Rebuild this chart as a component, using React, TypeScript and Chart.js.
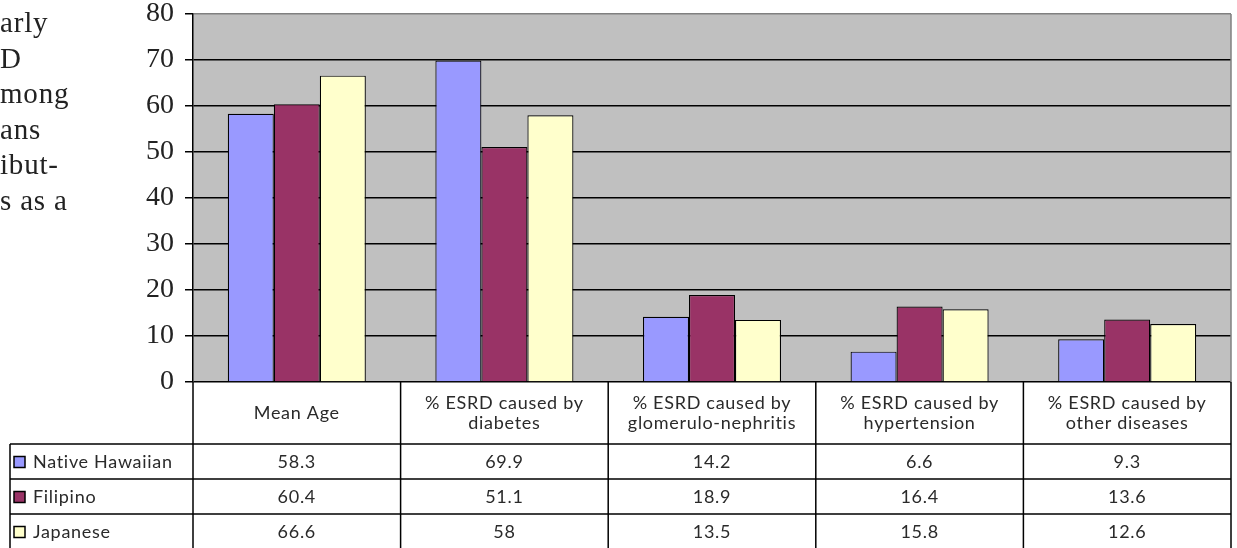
import React, { useEffect, useRef } from "react";
import { Chart, registerables } from "chart.js";

Chart.register(...registerables);

const categories: string[][] = [
  ["Mean Age"],
  ["% ESRD caused by", "diabetes"],
  ["% ESRD caused by", "glomerulo-nephritis"],
  ["% ESRD caused by", "hypertension"],
  ["% ESRD caused by", "other diseases"],
];
const seriesNames = ["Native Hawaiian", "Filipino", "Japanese"];
const nativeHawaiian = [58.3, 69.9, 14.2, 6.6, 9.3];
const filipino = [60.4, 51.1, 18.9, 16.4, 13.6];
const japanese = [66.6, 58, 13.5, 15.8, 12.6];
const seriesColors = ["#9999ff", "#993366", "#ffffcc"];
const yMin = 0;
const yMax = 80;
const yStep = 10;
const sideText = ["arly", "D", "mong", "ans", "ibut-", "s as a"];

const TABLE_FONT = '18px Lato, "Open Sans", sans-serif';
const HEADER_H = 62;
const ROW_H = 35;
const LEGEND_LEFT = 10;

const tablePlugin = {
  id: "excelTable",
  beforeDraw(chart: any) {
    const { ctx, chartArea } = chart;
    ctx.save();
    ctx.fillStyle = "#c0c0c0";
    ctx.fillRect(chartArea.left, chartArea.top, chartArea.right - chartArea.left, chartArea.bottom - chartArea.top);
    ctx.restore();
  },
  afterDraw(chart: any) {
    const { ctx, chartArea } = chart;
    const series = [nativeHawaiian, filipino, japanese];
    const n = categories.length;
    const colW = (chartArea.right - chartArea.left) / n;
    const top = chartArea.bottom;
    const hb = top + HEADER_H;
    const bottom = chart.height + 2;
    ctx.save();
    ctx.strokeStyle = "#808080";
    ctx.lineWidth = 1.5;
    ctx.beginPath();
    ctx.moveTo(chartArea.right, chartArea.top);
    ctx.lineTo(chartArea.right, chartArea.bottom);
    ctx.stroke();

    ctx.strokeStyle = "#000";
    ctx.lineWidth = 1.5;
    ctx.beginPath();
    for (let i = 0; i <= n; i++) {
      const x = chartArea.left + i * colW;
      ctx.moveTo(x, top);
      ctx.lineTo(x, bottom);
    }
    ctx.moveTo(LEGEND_LEFT, hb);
    ctx.lineTo(LEGEND_LEFT, bottom);
    for (let r = 0; r < series.length; r++) {
      const y = hb + r * ROW_H;
      ctx.moveTo(LEGEND_LEFT, y);
      ctx.lineTo(chartArea.right, y);
    }
    ctx.stroke();

    ctx.fillStyle = "#2a2a2a";
    ctx.font = TABLE_FONT;
    (ctx as any).letterSpacing = "0.7px";
    ctx.textAlign = "center";
    ctx.textBaseline = "middle";
    const x0 = chart.scales.x;
    categories.forEach((lines, i) => {
      const cx = x0.getPixelForValue(i);
      const cy = top + HEADER_H / 2;
      const lh = 20;
      lines.forEach((t, k) => {
        ctx.fillText(t, cx, cy + (k - (lines.length - 1) / 2) * lh);
      });
      series.forEach((s, r) => {
        ctx.fillText(String(s[i]), cx, hb + r * ROW_H + ROW_H / 2 + 1);
      });
    });
    ctx.textAlign = "left";
    seriesNames.forEach((name, r) => {
      const cy = hb + r * ROW_H + ROW_H / 2 + 1;
      ctx.fillStyle = seriesColors[r];
      ctx.fillRect(14, cy - 6, 11, 11);
      ctx.strokeStyle = "#000";
      ctx.lineWidth = 1.5;
      ctx.strokeRect(14, cy - 6, 11, 11);
      ctx.fillStyle = "#2a2a2a";
      ctx.fillText(name, 33, cy);
    });
    ctx.restore();
  },
};

export default function App() {
  const ref = useRef<HTMLCanvasElement | null>(null);
  useEffect(() => {
    if (!ref.current) return;
    const data = [nativeHawaiian, filipino, japanese];
    const chart = new Chart(ref.current, {
      type: "bar",
      data: {
        labels: categories.map((c) => c.join(" ")),
        datasets: seriesNames.map((name, i) => ({
          label: name,
          data: data[i],
          backgroundColor: seriesColors[i],
          borderColor: "#000",
          borderWidth: 1.2,
          categoryPercentage: 0.665,
          barPercentage: 1,
        })),
      },
      options: {
        animation: false,
        responsive: true,
        maintainAspectRatio: false,
        layout: { padding: { left: 0, top: 14, right: 6, bottom: 166 } },
        plugins: { legend: { display: false }, tooltip: { enabled: false } },
        scales: {
          x: { display: false },
          y: {
            min: yMin,
            max: yMax,
            ticks: {
              stepSize: yStep,
              color: "#222",
              padding: 11,
              font: { family: '"Liberation Serif", serif', size: 28 },
            },
            grid: {
              color: (c: any) => (c.tick && c.tick.value === yMax ? "#808080" : "#000"),
              tickColor: "#000",
              lineWidth: 1.5,
              tickLength: 8,
            },
            border: { display: true, color: "#000", width: 1.5 },
            afterFit(scale: any) {
              scale.width = 193;
              scale.paddingTop = 0;
              scale.paddingBottom = 0;
            },
          },
        },
      },
      plugins: [tablePlugin],
    });
    return () => chart.destroy();
  }, []);
  return (
    <div style={{ position: "absolute", left: 0, top: 0, width: 1237, height: 548, background: "#fff", overflow: "hidden" }}>
      <canvas ref={ref} />
      {sideText.map((t, i) => (
        <div
          key={i}
          style={{
            position: "absolute",
            left: 0,
            top: 4 + i * 35.5,
            lineHeight: "36px",
            fontFamily: '"Liberation Serif", serif',
            fontSize: 29,
            letterSpacing: "0.8px",
            color: "#222",
            whiteSpace: "pre",
          }}
        >
          {t}
        </div>
      ))}
    </div>
  );
}
